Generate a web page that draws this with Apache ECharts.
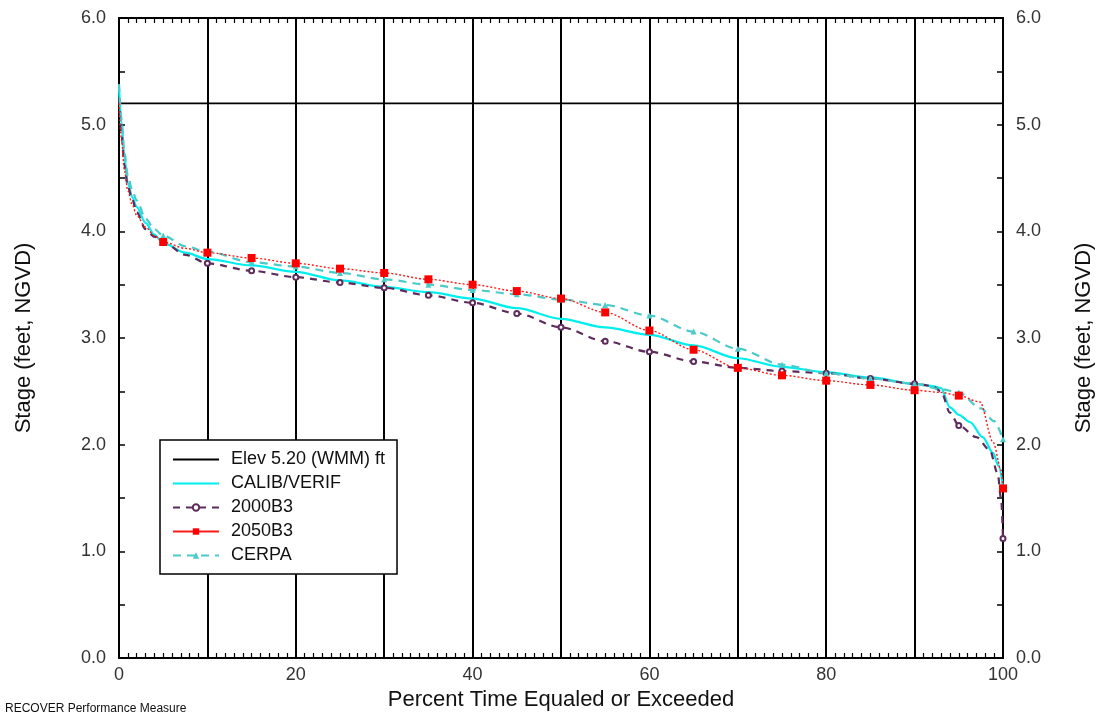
<!DOCTYPE html>
<html>
<head>
<meta charset="utf-8">
<script src="https://cdn.jsdelivr.net/npm/echarts@6/dist/echarts.min.js"></script>
<style>
  html, body { margin: 0; padding: 0; background: #fff; overflow: hidden; }
  #chart { width: 1099px; height: 715px; }
</style>
</head>
<body>
<div id="chart"></div>
<script>
// stage duration curves
var elevLevel = 5.2;

var calibX = [0, 0.3, 0.6, 1, 1.5, 2, 3, 4, 5, 7.5, 10, 15, 20, 25, 30, 35, 40, 45, 50, 55, 60, 65, 70, 75, 80, 85, 90, 92, 93, 94, 95, 96.3, 97.7, 98.9, 99.5, 100];
var calibY = [5.35, 5.0, 4.7, 4.45, 4.32, 4.23, 4.08, 3.97, 3.89, 3.80, 3.74, 3.68, 3.62, 3.54, 3.48, 3.43, 3.37, 3.28, 3.18, 3.10, 3.03, 2.93, 2.81, 2.73, 2.68, 2.63, 2.57, 2.55, 2.53, 2.35, 2.28, 2.21, 2.07, 1.92, 1.80, 1.60];

var b2000X = [0, 0.3, 0.6, 1, 1.5, 2, 3, 4, 5, 7.5, 10, 15, 20, 25, 30, 35, 40, 45, 50, 55, 60, 65, 70, 75, 80, 85, 90, 92, 93, 94, 95, 97, 98.5, 99.4, 99.8, 100];
var b2000Y = [5.25, 4.9, 4.62, 4.42, 4.30, 4.18, 4.02, 3.95, 3.90, 3.78, 3.70, 3.63, 3.57, 3.52, 3.47, 3.40, 3.33, 3.23, 3.10, 2.97, 2.87, 2.78, 2.72, 2.69, 2.67, 2.62, 2.57, 2.55, 2.50, 2.30, 2.18, 2.07, 1.95, 1.73, 1.48, 1.12];

var b2050X = [0, 0.3, 0.6, 1, 1.5, 2, 3, 4, 5, 7.5, 10, 15, 20, 25, 30, 35, 40, 45, 50, 55, 60, 65, 70, 75, 80, 85, 90, 93, 95, 97.4, 98.9, 99.8, 100];
var b2050Y = [5.2, 4.85, 4.58, 4.38, 4.25, 4.15, 4.04, 3.96, 3.90, 3.84, 3.80, 3.75, 3.70, 3.65, 3.61, 3.55, 3.50, 3.44, 3.37, 3.24, 3.07, 2.89, 2.72, 2.65, 2.60, 2.56, 2.51, 2.49, 2.46, 2.40, 2.02, 1.76, 1.59];

var cerpaX = [0, 0.3, 0.6, 1, 1.5, 2, 3, 4, 5, 7.5, 10, 15, 20, 25, 30, 35, 40, 45, 50, 55, 60, 65, 70, 75, 80, 85, 90, 93, 95, 97.5, 99, 100];
var cerpaY = [5.38, 5.05, 4.75, 4.52, 4.38, 4.29, 4.12, 4.02, 3.96, 3.86, 3.81, 3.71, 3.67, 3.61, 3.55, 3.50, 3.45, 3.41, 3.36, 3.31, 3.21, 3.06, 2.90, 2.75, 2.67, 2.62, 2.57, 2.52, 2.49, 2.34, 2.22, 2.05];

var seriesNames = ['Elev 5.20 (WMM) ft', 'CALIB/VERIF', '2000B3', '2050B3', 'CERPA'];

// markers only every 5 %
function pts(xs, ys) {
  return xs.map(function (x, i) {
    var item = { value: [x, ys[i]] };
    if (!(x > 0 && x % 5 === 0)) item.symbol = 'none';
    return item;
  });
}

var chart = echarts.init(document.getElementById('chart'));
var font = 'Liberation Sans, Arial, sans-serif';

var xBase = {
  type: 'value', min: 0, max: 100, interval: 10,
  axisLine: { show: true, onZero: false, lineStyle: { color: '#000', width: 2 } },
  axisTick: { show: true, inside: true, length: 6, lineStyle: { color: '#000', width: 1.5 } },
  minorTick: { show: true, splitNumber: 10, length: 5, lineStyle: { color: '#000', width: 1.2 } },
  splitLine: { show: false }
};

chart.setOption({
  animation: false,
  backgroundColor: '#fff',
  grid: { left: 119, right: 96, top: 18, bottom: 57, outerBoundsMode: 'none' },
  xAxis: [
    Object.assign({}, xBase, {
      position: 'bottom',
      name: 'Percent Time Equaled or Exceeded',
      nameLocation: 'middle', nameGap: 26,
      nameTextStyle: { fontFamily: font, fontSize: 22, color: '#111' },
      axisLabel: { fontFamily: font, fontSize: 18, color: '#333', margin: 8,
        formatter: function (v) { return v % 20 === 0 ? String(v) : ''; } },
      splitLine: { show: true, lineStyle: { color: '#000', width: 2 } }
    }),
    Object.assign({}, xBase, { position: 'top', axisLabel: { show: false } })
  ],
  yAxis: [0, 1].map(function (k) {
    return {
      type: 'value', min: 0, max: 6, interval: 1,
      position: k === 0 ? 'left' : 'right',
      name: 'Stage (feet, NGVD)',
      nameLocation: 'middle', nameGap: k === 0 ? 84 : 70,
      nameRotate: 90,
      nameTextStyle: { fontFamily: font, fontSize: 22, color: '#111' },
      axisLine: { show: true, onZero: false, lineStyle: { color: '#000', width: 2 } },
      axisTick: { show: true, inside: true, length: 6, lineStyle: { color: '#000', width: 1.5 } },
      minorTick: { show: true, splitNumber: 2, length: 6, lineStyle: { color: '#000', width: 1.5 } },
      axisLabel: { fontFamily: font, fontSize: 18, color: '#333', margin: 13,
        formatter: function (v) { return v.toFixed(1); } },
      splitLine: { show: false }
    };
  }),
  legend: {
    orient: 'vertical',
    left: 160, top: 440,
    padding: [10, 12, 9, 12],
    itemGap: 5,
    itemWidth: 46, itemHeight: 8,
    borderColor: '#000', borderWidth: 1.5,
    backgroundColor: '#fff',
    textStyle: { fontFamily: font, fontSize: 18, color: '#111', padding: [0, 0, 0, 7], lineHeight: 19 },
    data: [
      { name: seriesNames[0], itemStyle: { opacity: 0 } },
      { name: seriesNames[1], itemStyle: { opacity: 0 } },
      { name: seriesNames[2] },
      { name: seriesNames[3], lineStyle: { type: 'solid' } },
      { name: seriesNames[4] }
    ]
  },
  graphic: [{
    type: 'text', left: 5, top: 703,
    style: { text: 'RECOVER Performance Measure', fontFamily: font, fontSize: 12, fill: '#111' }
  }],
  series: [
    {
      name: seriesNames[0], type: 'line', symbol: 'none',
      data: [[0, elevLevel], [100, elevLevel]],
      lineStyle: { color: '#000', width: 1.6 }, itemStyle: { color: '#000' }, z: 3
    },
    {
      name: seriesNames[1], type: 'line', symbol: 'none',
      smooth: 0.3, smoothMonotone: 'x',
      data: pts(calibX, calibY),
      lineStyle: { color: '#00eeee', width: 2.2 }, itemStyle: { color: '#00eeee' }, z: 4
    },
    {
      name: seriesNames[2], type: 'line', symbol: 'emptyCircle', symbolSize: 5, showAllSymbol: true,
      smooth: 0.3, smoothMonotone: 'x',
      data: pts(b2000X, b2000Y),
      lineStyle: { color: '#5e2c5c', width: 2.2, type: [7, 6] },
      itemStyle: { color: '#5e2c5c', borderColor: '#5e2c5c', borderWidth: 1.2 }, z: 5
    },
    {
      name: seriesNames[3], type: 'line', symbol: 'rect', symbolSize: 8, showAllSymbol: true,
      smooth: 0.3, smoothMonotone: 'x',
      data: pts(b2050X, b2050Y),
      lineStyle: { color: '#ff1a1a', width: 1.4, type: [2, 2] },
      itemStyle: { color: '#ff0000' }, z: 6
    },
    {
      name: seriesNames[4], type: 'line', symbol: 'triangle', symbolSize: 6, showAllSymbol: true,
      smooth: 0.3, smoothMonotone: 'x',
      data: pts(cerpaX, cerpaY),
      lineStyle: { color: '#4ccaca', width: 2.2, type: [8, 6] },
      itemStyle: { color: '#4ccaca' }, z: 5
    }
  ]
});
</script>
</body>
</html>
